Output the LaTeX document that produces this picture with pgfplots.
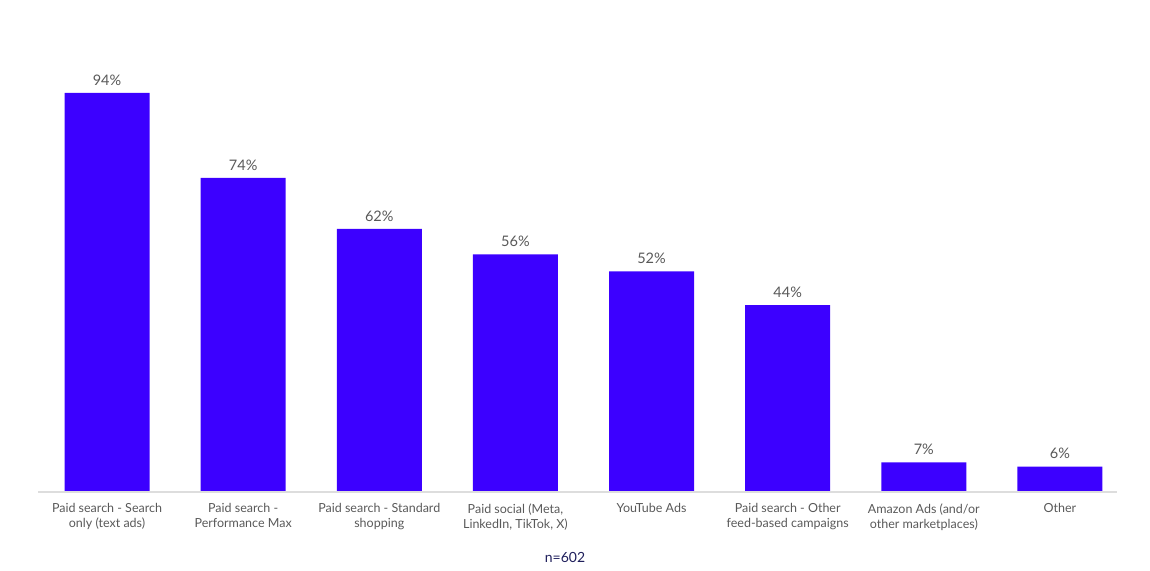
\documentclass[border=0pt]{standalone}
\usepackage{fontspec}
\setmainfont{Lato}
\usepackage{pgfplots}
\pgfplotsset{compat=1.18}
\definecolor{barblue}{HTML}{3C00FF}
\definecolor{txtgray}{HTML}{595959}
\definecolor{navy}{HTML}{1F1F5C}
\definecolor{basegray}{HTML}{DDDDDD}
\begin{document}
\begin{tikzpicture}
\path[use as bounding box] (-38bp,-79bp) rectangle (1112bp,492bp);
\begin{axis}[
  at={(0,0)}, anchor=south west,
  scale only axis,
  width=1079bp, height=492bp,
  xmin=-0.507, xmax=7.419,
  ymin=0, ymax=115.9,
  axis line style={draw=none},
  axis x line*=bottom,
  axis y line=none,
  ybar, bar width=85bp,
  xtick=data,
  xticklabels={{Paid search - Search\\only (text ads)},{Paid search -\\Performance Max},{Paid search - Standard\\shopping},{Paid social (Meta,\\LinkedIn, TikTok, X)},{YouTube Ads},{Paid search - Other\\feed-based campaigns},{Amazon Ads (and/or\\other marketplaces)},{Other}},
  xticklabel style={font=\fontsize{12.5bp}{15bp}\selectfont, text=txtgray, align=center, anchor=north, yshift=-8bp},
  major tick length=0pt,
  nodes near coords={\pgfmathprintnumber[assume math mode=true]{\pgfplotspointmeta}\%},
  nodes near coords style={font=\fontsize{14.5bp}{16bp}\selectfont, text=txtgray, anchor=south, yshift=4bp},
  point meta=explicit,
  clip=false,
]
\addplot[fill=barblue, draw=none] coordinates {
(0,94) [94] (1,74) [74] (2,62) [62] (3,56) [56] (4,52) [52] (5,44) [44] (6,7) [7] (7,6) [6]};
\draw[basegray, line width=1.2bp] (axis cs:-0.507,0) -- (axis cs:7.419,0);
\end{axis}
\node[font=\fontsize{14bp}{16bp}\selectfont, text=navy] at (527bp,-65bp) {n=602};
\end{tikzpicture}
\end{document}
